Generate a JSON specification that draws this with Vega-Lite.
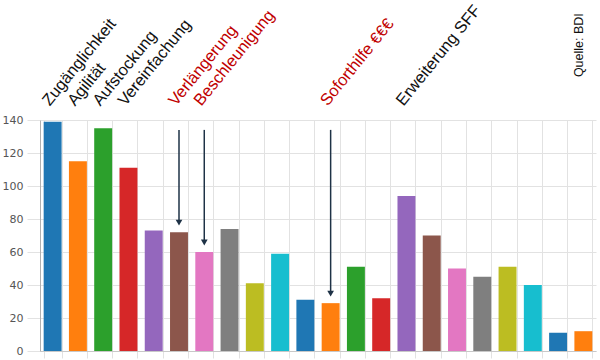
{
  "$schema": "https://vega.github.io/schema/vega-lite/v6.json",
  "width": 556,
  "height": 231,
  "autosize": {"type": "none"},
  "padding": {"left": 40, "top": 120, "right": 4, "bottom": 9},
  "background": "white",
  "config": {
    "view": {"stroke": null},
    "axisY": {
      "labelOverlap": false, "labelFlush": false, "tickCount": 8,
      "gridColor": "#e2e2e2", "tickColor": "#e2e2e2", "tickSize": 13,
      "labelPadding": 4, "labelFont": "DejaVu Sans", "labelFontSize": 11,
      "labelColor": "#555555", "domainColor": "#b0b0b0", "title": null
    }
  },
  "data": {"values": [
    {"id": 1, "wert": 139, "label": "Zugänglichkeit", "hervor": false},
    {"id": 2, "wert": 115, "label": "Agilität", "hervor": false},
    {"id": 3, "wert": 135, "label": "Aufstockung", "hervor": false},
    {"id": 4, "wert": 111, "label": "Vereinfachung", "hervor": false},
    {"id": 5, "wert": 73, "label": "", "hervor": false},
    {"id": 6, "wert": 72, "label": "Verlängerung", "hervor": true},
    {"id": 7, "wert": 60, "label": "Beschleunigung", "hervor": true},
    {"id": 8, "wert": 74, "label": "", "hervor": false},
    {"id": 9, "wert": 41, "label": "", "hervor": false},
    {"id": 10, "wert": 59, "label": "", "hervor": false},
    {"id": 11, "wert": 31, "label": "", "hervor": false},
    {"id": 12, "wert": 29, "label": "Soforthilfe €€€", "hervor": true},
    {"id": 13, "wert": 51, "label": "", "hervor": false},
    {"id": 14, "wert": 32, "label": "", "hervor": false},
    {"id": 15, "wert": 94, "label": "Erweiterung SFF", "hervor": false},
    {"id": 16, "wert": 70, "label": "", "hervor": false},
    {"id": 17, "wert": 50, "label": "", "hervor": false},
    {"id": 18, "wert": 45, "label": "", "hervor": false},
    {"id": 19, "wert": 51, "label": "", "hervor": false},
    {"id": 20, "wert": 40, "label": "", "hervor": false},
    {"id": 21, "wert": 11, "label": "", "hervor": false},
    {"id": 22, "wert": 12, "label": "", "hervor": false}
  ]},
  "encoding": {
    "x": {
      "field": "id", "type": "ordinal",
      "scale": {"paddingInner": 0.29, "paddingOuter": 0.145},
      "axis": {
        "title": null, "labels": false, "grid": true, "gridColor": "#e2e2e2",
        "tickBand": "extent", "tickSize": 7, "tickColor": "#e2e2e2",
        "domainColor": "#c8c8c8"
      }
    }
  },
  "layer": [
    {
      "mark": {"type": "bar"},
      "encoding": {
        "y": {
          "field": "wert", "type": "quantitative",
          "scale": {"domain": [0, 140], "nice": false},
          "axis": {"values": [0, 20, 40, 60, 80, 100, 120, 140], "labelOverlap": false}
        },
        "color": {"field": "id", "type": "nominal", "scale": {"scheme": "category10"}, "legend": null}
      }
    },
    {
      "transform": [{"filter": "datum.hervor"}],
      "mark": {"type": "rule", "color": "#1e3246", "strokeWidth": 1.5, "yOffset": -11},
      "encoding": {
        "y": {"field": "wert", "type": "quantitative"},
        "y2": {"datum": 134}
      }
    },
    {
      "transform": [{"filter": "datum.hervor"}],
      "mark": {"type": "point", "shape": "triangle-down", "filled": true, "color": "#1e3246", "size": 45, "opacity": 1, "yOffset": -9.5},
      "encoding": {
        "y": {"field": "wert", "type": "quantitative"}
      }
    },
    {
      "transform": [{"filter": "datum.label != ''"}],
      "mark": {"type": "text", "angle": -51, "align": "left", "baseline": "alphabetic", "font": "Liberation Sans", "fontSize": 16.5, "xOffset": -3},
      "encoding": {
        "y": {"datum": 148, "type": "quantitative"},
        "text": {"field": "label", "type": "nominal"},
        "color": {"condition": {"test": "datum.hervor", "value": "#c00000"}, "value": "#111111"}
      }
    },
    {
      "data": {"values": [{"quelle": "Quelle: BDI"}]},
      "mark": {"type": "text", "angle": -90, "align": "left", "baseline": "middle", "font": "Liberation Sans", "fontSize": 12.5, "color": "#111111", "dy": -4},
      "encoding": {
        "x": {"datum": 22, "type": "ordinal"},
        "y": {"datum": 166, "type": "quantitative"},
        "text": {"field": "quelle", "type": "nominal"}
      }
    }
  ]
}
